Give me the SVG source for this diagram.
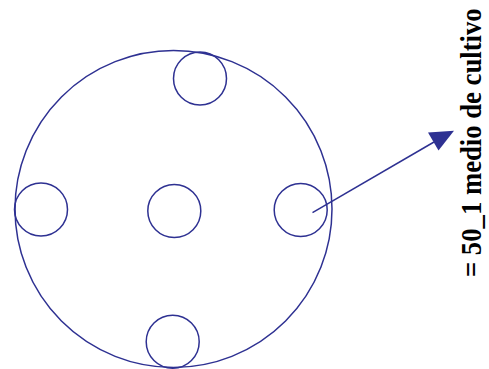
<svg xmlns="http://www.w3.org/2000/svg" width="489" height="369" viewBox="0 0 489 369">
<style>
.c{fill:none;stroke:#2e3192;stroke-width:1.5}
.lbl{font-family:"Liberation Serif",serif;font-weight:bold;font-size:26.7px;fill:#000}
</style>
<g id="plate"><circle class="c" cx="173.5" cy="209" r="158.5"/></g>
<g id="well-top"><circle class="c" cx="200" cy="78.5" r="26.5"/></g>
<g id="well-left"><circle class="c" cx="41" cy="209.5" r="26.5"/></g>
<g id="well-center"><circle class="c" cx="174.3" cy="211" r="26.5"/></g>
<g id="well-right"><circle class="c" cx="300.7" cy="210" r="26.5"/></g>
<g id="well-bottom"><circle class="c" cx="172.7" cy="341.7" r="26.5"/></g>
<g id="connectors">
<line x1="312.5" y1="212.7" x2="434" y2="142" stroke="#2e3192" stroke-width="1.5"/>
<path d="M454,130.7 L438.5,150.5 L428,132.5 Z" fill="#2e3192"/>
</g>
<g id="label"><text class="lbl" transform="translate(481,277) rotate(-90) scale(1,1.1)">= 50_1 medio de cultivo</text></g>
</svg>
